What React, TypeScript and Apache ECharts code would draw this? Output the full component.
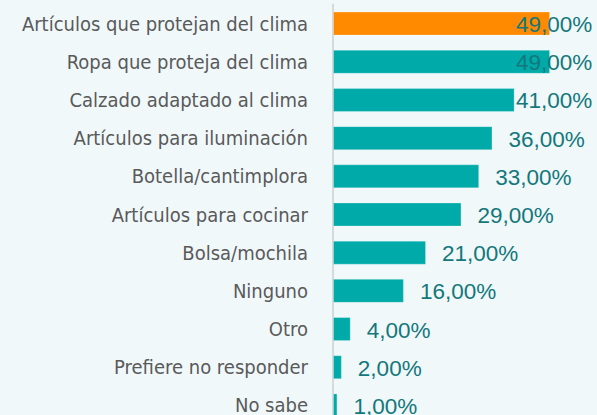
import React, { useEffect, useRef } from "react";
import * as echarts from "echarts";

const categories = [
  "Artículos que protejan del clima",
  "Ropa que proteja del clima",
  "Calzado adaptado al clima",
  "Artículos para iluminación",
  "Botella/cantimplora",
  "Artículos para cocinar",
  "Bolsa/mochila",
  "Ninguno",
  "Otro",
  "Prefiere no responder",
  "No sabe",
];
const values = [49, 49, 41, 36, 33, 29, 21, 16, 4, 2, 1];
const highlightIndex = 0;

const GRID_LEFT = 333;
const X_MAX = 50;
const PX_PER_UNIT = 4.43;
const GRID_WIDTH = X_MAX * PX_PER_UNIT;
const LABEL_DIST = 16;
const LABEL_MAX_LEFT = 516;

export default function App() {
  const ref = useRef<HTMLDivElement>(null);
  useEffect(() => {
    if (!ref.current) return;
    const chart = echarts.init(ref.current, undefined, { renderer: "svg" });
    const data = values.map((v, i) => {
      const barEnd = GRID_LEFT + v * PX_PER_UNIT;
      const dx = Math.min(0, LABEL_MAX_LEFT - (barEnd + LABEL_DIST));
      return {
        value: v,
        itemStyle: {
          color: i === highlightIndex ? "#FF8A00" : "#00AAA8",
        },
        label: { offset: [dx, 1] },
      };
    });
    chart.setOption({
      animation: false,
      backgroundColor: "#F0F8FA",
      grid: {
        left: GRID_LEFT,
        width: GRID_WIDTH,
        top: 4.5,
        bottom: 5.5,
      },
      xAxis: {
        type: "value",
        min: 0,
        max: X_MAX,
        show: false,
      },
      yAxis: {
        type: "category",
        inverse: true,
        data: categories,
        axisLine: { show: true, lineStyle: { color: "#D5DADC", width: 2 } },
        axisTick: { show: false },
        axisLabel: {
          margin: 25,
          fontSize: 20,
          color: "#5A5A5A",
          fontFamily: "'Liberation Sans Narrow', 'DejaVu Sans Condensed', 'Roboto', sans-serif",
        },
      },
      series: [
        {
          type: "bar",
          data,
          barWidth: 24,
          itemStyle: { borderColor: "rgba(255,255,255,0.25)", borderWidth: 1 },
          label: {
            show: true,
            position: "right",
            distance: LABEL_DIST,
            fontSize: 22.5,
            color: "#13777B",
            fontFamily: "'Liberation Sans', Arial, sans-serif",
            formatter: (p: any) => p.value.toFixed(2).replace(".", ",") + "%",
          },
        },
      ],
    });
    return () => chart.dispose();
  }, []);
  return (
    <div
      style={{ position: "fixed", left: 0, top: 0, width: 597, height: 430, background: "#F0F8FA" }}
    >
      <div ref={ref} style={{ width: 597, height: 430 }} />
    </div>
  );
}
